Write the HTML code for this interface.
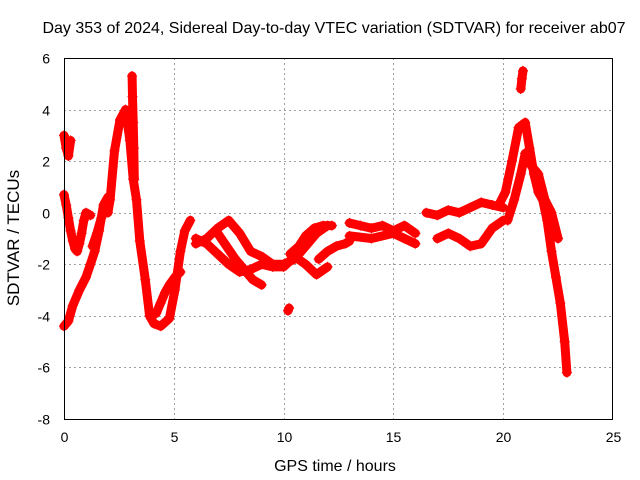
<!DOCTYPE html>
<html><head><meta charset="utf-8"><style>
body{margin:0;background:#fff;}
svg{display:block;font-family:"Liberation Sans",sans-serif;}
</style></head><body>
<svg id="chart" width="640" height="480" xmlns="http://www.w3.org/2000/svg">
<text x="334" y="33" font-size="16" text-anchor="middle">Day 353 of 2024, Sidereal Day-to-day VTEC variation (SDTVAR) for receiver ab07</text>
<text x="335" y="471" font-size="16" text-anchor="middle">GPS time / hours</text>
<text transform="translate(19,238) rotate(-90)" font-size="17" text-anchor="middle">SDTVAR / TECUs</text>
<g id="grid"></g><g id="ticks"></g><g id="marks"></g>
<rect x="64.5" y="58.5" width="548" height="361" fill="none" stroke="#000" stroke-width="1"/>
</svg>
<script>
const xTicks=[0,5,10,15,20,25];
const yTicks=[-8,-6,-4,-2,0,2,4,6];
const tracks=[
 {t:[0,0.1,0.2,0.3,0.4,0.5,0.6,0.7,0.8,0.9,1.0,1.2],v:[0.7,0.3,-0.2,-0.7,-1.1,-1.4,-1.5,-1.2,-0.8,-0.3,0.0,-0.1]},
 {t:[0,0.1,0.2,0.3],v:[3.0,2.5,2.2,2.8]},
 {t:[0,0.2,0.4,0.7,1.0,1.2,1.4,1.6,1.8,2.0],v:[-4.4,-4.2,-3.6,-3.0,-2.5,-2.0,-1.5,-0.7,0.3,0.6]},
 {t:[1.3,1.5,1.7,1.9],v:[-1.3,-0.8,-0.2,0.2]},
 {t:[2.0,2.1,2.3,2.55,2.8,3.0,3.15,3.3,3.45,3.7,3.9,4.1,4.4,4.8,5.05,5.3,5.5,5.75],v:[0.0,0.5,2.4,3.6,4.0,2.8,1.3,0.5,-1.1,-2.6,-4.0,-4.3,-4.4,-4.1,-3.0,-1.5,-0.7,-0.3]},
 {t:[3.1,3.12,3.15,3.18,3.2],v:[5.3,4.5,3.5,2.5,1.3]},
 {t:[4.2,4.4,4.6,4.8,5.05,5.3],v:[-3.9,-3.5,-3.1,-2.8,-2.5,-2.3]},
 {t:[6,6.5,7,7.5,8,8.5,9,9.5,10,10.5,11,11.5,12],v:[-1.2,-1.0,-0.6,-0.3,-0.8,-1.5,-1.7,-2.0,-2.0,-1.8,-1.3,-0.8,-0.5]},
 {t:[6,6.5,7,7.5,8,8.5,9,9.5,10,10.5,11,11.5,12],v:[-1.0,-1.2,-1.6,-2.0,-2.3,-2.2,-2.0,-2.1,-2.1,-1.7,-2.0,-2.4,-2.1]},
 {t:[7.0,7.4,7.8,8.2,8.6,9.0],v:[-0.8,-1.3,-1.8,-2.2,-2.6,-2.8]},
 {t:[10.3,10.7,11,11.4,11.8,12.2],v:[-1.6,-1.3,-0.9,-0.6,-0.5,-0.5]},
 {t:[11.6,12,12.4,12.8,13],v:[-1.8,-1.5,-1.3,-1.2,-1.1]},
 {t:[10.2,10.25],v:[-3.8,-3.7]},
 {t:[13,13.5,14,14.5,15,15.5,16],v:[-0.4,-0.5,-0.6,-0.5,-0.7,-0.5,-0.8]},
 {t:[13,14,15,15.5,16],v:[-0.9,-1.0,-0.8,-1.0,-1.2]},
 {t:[16.5,17,17.5,18,18.5,19,19.5,20],v:[0,-0.1,0.1,0,0.2,0.4,0.3,0.2]},
 {t:[17,17.5,18,18.5,19,19.5,20],v:[-1.0,-0.8,-1.0,-1.3,-1.2,-0.6,-0.3]},
 {t:[19.8,20.1,20.4,20.7,21.0,21.2,21.4,21.6,21.8,22.0,22.2,22.4,22.6,22.8,22.9],v:[0.3,0.8,2.0,3.3,3.5,2.5,1.5,0.8,0.5,-0.3,-1.5,-2.5,-3.5,-5.0,-6.2]},
 {t:[20.2,20.5,20.8,21.0,21.3,21.6,21.9,22.2,22.5],v:[-0.3,0.5,1.5,2.3,1.8,1.5,0.5,0,-1.0]},
 {t:[20.8,20.85,20.9],v:[4.8,5.2,5.5]}
];
const X0=64,X1=613,Y0=419,Y1=58;
const xs=t=>X0+(t/25)*(X1-X0);
const ys=v=>Y0-((v+8)/14)*(Y0-Y1);
const NS="http://www.w3.org/2000/svg";
const grid=document.getElementById('grid'),tk=document.getElementById('ticks'),mk=document.getElementById('marks');
function mkEl(tag,attrs,parent){const e=document.createElementNS(NS,tag);for(const k in attrs)e.setAttribute(k,attrs[k]);parent.appendChild(e);return e;}
xTicks.forEach(t=>{const x=Math.round(xs(t))+0.5;
 if(t>0&&t<25){const g=mkEl('line',{x1:x,x2:x,y1:Y1,y2:Y0,stroke:'#a0a0a0','stroke-dasharray':'2,3'},grid);
 
 }
 const l=mkEl('text',{x:x,y:442,'font-size':14,'text-anchor':'middle'},tk);l.textContent=t;
 
 });
yTicks.forEach(v=>{const y=Math.round(ys(v))+0.5;
 if(v>-8&&v<6){const g=mkEl('line',{x1:X0,x2:X1,y1:y,y2:y,stroke:'#a0a0a0','stroke-dasharray':'2,3'},grid);
 
 }
 const l=mkEl('text',{x:50,y:y+5,'font-size':14,'text-anchor':'end'},tk);l.textContent=v;
 
 });
tracks.forEach((tr,i)=>{
 const pts=tr.t.map((t,j)=>xs(t).toFixed(1)+','+ys(tr.v[j]).toFixed(1)).join(' ');
 const pl=mkEl('polyline',{points:pts,fill:'none',stroke:'#ff0000','stroke-width':9,'stroke-linejoin':'round','stroke-linecap':'round'},mk);
 
 
 tr.t.forEach((t,j)=>{const x=xs(t),y=ys(tr.v[j]);
  const p=mkEl('path',{d:`M${x-5},${y}H${x+5}M${x},${y-5}V${y+5}`,stroke:'#ff0000','stroke-width':1.2},mk);
  
  });
});
</script>
</body></html>
